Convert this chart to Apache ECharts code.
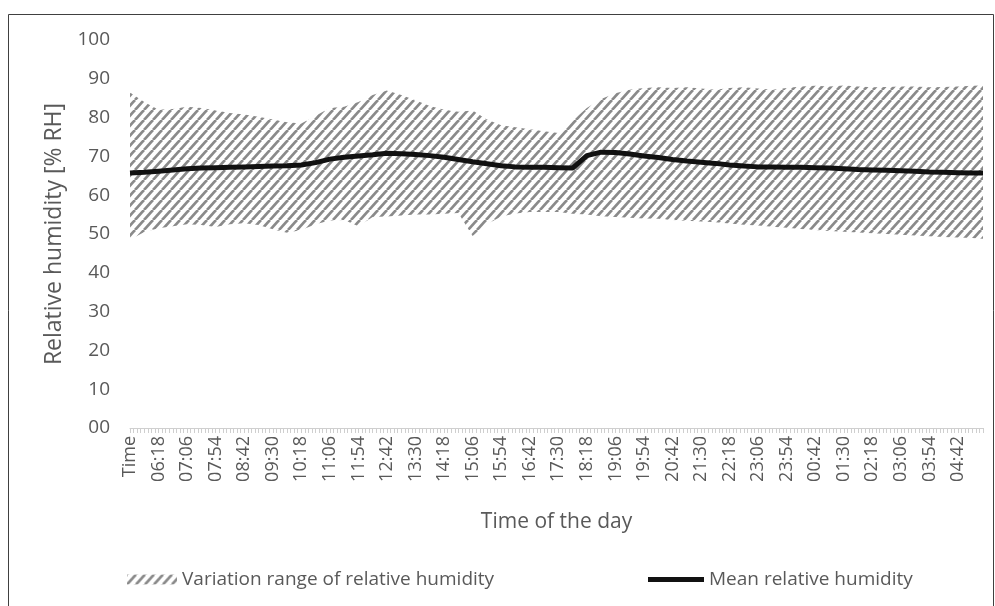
<!DOCTYPE html>
<html><head><meta charset="utf-8">
<script src="https://cdn.jsdelivr.net/npm/echarts@6/dist/echarts.min.js"></script>
<style>html,body{margin:0;padding:0;background:#fff}#c{width:995px;height:606px}</style>
</head><body><div id="c"></div>
<script>
// ---- data ----
const firstCategory = 'Time';
const catStartMinutes = 5 * 60 + 30; // category i (i>=1) = start + 6*i minutes
const catStepMinutes = 6;
const catCount = 240;

const sampleTimes = ['Time','05:54','06:18','06:42','07:06','07:30','07:54','08:18','08:42','09:06',
  '09:30','09:54','10:18','10:42','11:06','11:30','11:54','12:18','12:42','13:06',
  '13:30','13:54','14:18','14:42','15:06','15:30','15:54','16:18','16:42','17:06',
  '17:30','17:54','18:18','18:42','19:06','19:30','19:54','20:18','20:42','21:06',
  '21:30','21:54','22:18','22:42','23:06','23:30','23:54','00:18','00:42','01:06',
  '01:30','01:54','02:18','02:42','03:06','03:30','03:54','04:18','04:42','05:06','05:24'];

const maxHumidity = [86.5,84,82,82.2,82.8,82.5,81.8,81.2,80.8,80.2,
  79.5,78.8,78.5,80.5,82.5,82.8,84,85.8,87,85.8,
  84.5,83,82,81.5,81.8,79.5,78,77.5,77,76.5,
  76,79.2,82.5,84.8,86.3,87.2,87.6,87.8,87.6,87.8,
  87.5,87.2,87.6,87.8,87.5,87.2,87.6,88,88.2,88,
  88.3,88,87.8,87.9,88,88,87.8,87.9,88,88.2,88.3];

const minHumidity = [48.5,50.5,51.5,52,52.5,52.3,51.8,52.5,52.8,52.3,
  51.2,50.3,51,52.5,53.5,53.6,52,54.4,54.5,54.8,
  55,55,55.2,55.4,49.5,52.5,54.5,55.3,55.7,55.7,
  55.7,55.2,55,54.6,54.4,54.2,54,53.9,53.6,53.4,
  53.2,53,52.7,52.4,52.2,51.9,51.6,51.3,51,50.8,
  50.6,50.4,50.2,50,49.8,49.6,49.4,49.2,49.1,49,48.8];

const meanHumidity = [65.7,65.9,66.2,66.5,66.8,67,67.1,67.2,67.3,67.4,
  67.5,67.6,67.8,68.4,69.3,69.8,70.1,70.4,70.8,70.7,
  70.5,70.2,69.8,69.2,68.6,68.1,67.6,67.3,67.2,67.2,
  67.1,67,70.2,71.1,71,70.6,70.1,69.7,69.2,68.8,
  68.5,68.2,67.8,67.5,67.3,67.3,67.2,67.2,67.1,67,
  66.8,66.6,66.5,66.4,66.3,66.2,66,65.9,65.8,65.7,65.7];

const seriesNames = ['Variation range of relative humidity', 'Mean relative humidity'];

// ---- build ----
const pad = n => (n < 10 ? '0' : '') + n;
const categories = [firstCategory];
for (let i = 1; i < catCount; i++) {
  const m = (catStartMinutes + catStepMinutes * i) % 1440;
  categories.push(pad(Math.floor(m / 60)) + ':' + pad(m % 60));
}
const pairs = vals => sampleTimes.map((t, k) => [t, vals[k]]);

function hatch() {
  const w = 9, h = 10;
  const c = document.createElement('canvas');
  c.width = w; c.height = h;
  const g = c.getContext('2d');
  g.strokeStyle = '#8a8a8a';
  g.lineWidth = 2.7;
  for (const dx of [-w, 0, w]) {
    g.beginPath(); g.moveTo(dx, h); g.lineTo(dx + w, 0); g.stroke();
  }
  return { image: c, repeat: 'repeat' };
}
const pattern = hatch();
const FONT = 'Open Sans';
const TXT = '#595959';

const chart = echarts.init(document.getElementById('c'), null, { renderer: 'canvas' });
chart.setOption({
  animation: false,
  backgroundColor: '#fff',
  graphic: [{ type: 'rect', shape: { x: 8.5, y: 14.5, width: 985, height: 600 },
    style: { fill: 'none', stroke: '#404040', lineWidth: 1 }, silent: true }],
  grid: { left: 130, right: 12, top: 40, bottom: 178 },
  legend: [
    { left: 122, top: 565, selectedMode: false, itemWidth: 50, itemHeight: 10, itemGap: 6,
      textStyle: { color: TXT, fontSize: 19, fontFamily: FONT },
      data: [{ name: seriesNames[0], icon: 'rect', itemStyle: { color: pattern } }] },
    { left: 643, top: 565, selectedMode: false, itemWidth: 56, itemHeight: 5, itemGap: 4,
      textStyle: { color: TXT, fontSize: 19, fontFamily: FONT },
      data: [{ name: seriesNames[1], icon: 'rect', itemStyle: { color: '#111' } }] }
  ],
  xAxis: {
    type: 'category', data: categories, boundaryGap: false, z: 10,
    name: 'Time of the day', nameLocation: 'middle', nameGap: 84,
    nameTextStyle: { color: TXT, fontSize: 21, fontFamily: FONT },
    axisLine: { lineStyle: { color: '#cfcfcf', width: 1 } },
    axisTick: { show: true, interval: 0, length: 5, lineStyle: { color: '#cfcfcf' } },
    axisLabel: { interval: 7, rotate: 90, color: TXT, fontSize: 18, fontFamily: FONT, margin: 8 },
    splitLine: { show: false }
  },
  yAxis: {
    type: 'value', min: 0, max: 100, interval: 10,
    name: 'Relative humidity [% RH]', nameLocation: 'middle', nameGap: 64,
    nameTextStyle: { color: TXT, fontSize: 23, fontFamily: FONT },
    axisLine: { show: false }, axisTick: { show: false }, splitLine: { show: false },
    axisLabel: { color: TXT, fontSize: 19, fontFamily: FONT, margin: 20,
      formatter: v => (v === 0 ? '00' : String(v)) }
  },
  series: [
    { name: seriesNames[0], type: 'line', data: pairs(maxHumidity), symbol: 'none', z: 2, silent: true,
      lineStyle: { width: 0 }, itemStyle: { color: pattern }, areaStyle: { color: pattern, opacity: 1 } },
    { name: 'lowerMask', type: 'line', data: pairs(minHumidity), symbol: 'none', z: 3, silent: true,
      lineStyle: { width: 0 }, areaStyle: { color: '#ffffff', opacity: 1 } },
    { name: seriesNames[1], type: 'line', data: pairs(meanHumidity), symbol: 'none', z: 4, silent: true,
      lineStyle: { width: 5, color: '#111' }, itemStyle: { color: '#111' } }
  ]
});
</script></body></html>
